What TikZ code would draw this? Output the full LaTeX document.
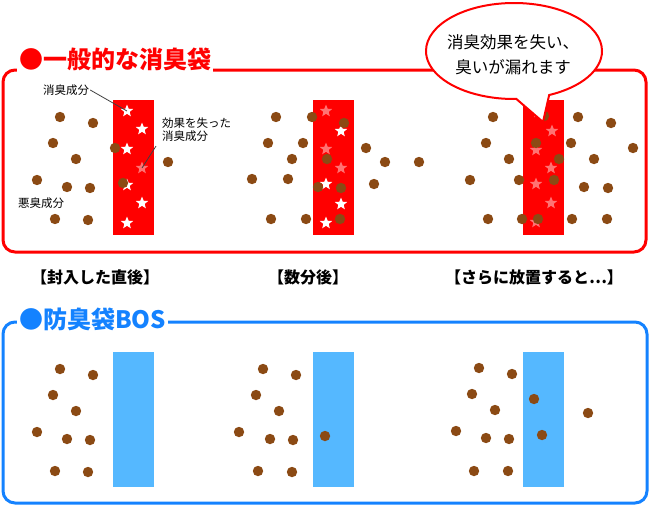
\documentclass[tikz,border=0pt]{standalone}
\usepackage{fontspec}
\usetikzlibrary{shapes.geometric, shapes.callouts}
\newfontfamily\jpfont{Noto Sans CJK JP}
\definecolor{bagred}{RGB}{255, 0, 0}
\definecolor{bosblue}{RGB}{20, 130, 255}
\definecolor{bosfill}{RGB}{85, 184, 255}
\definecolor{odour}{RGB}{139, 74, 20}

\begin{document}
\begin{tikzpicture}[x=1pt, y=-1pt,
        panel/.style={line width=3pt, rounded corners=12pt},
        heading/.style={fill=white, inner sep=2pt, anchor=west,
            font=\jpfont\bfseries\fontsize{24}{24}\selectfont},
        stage/.style={font=\jpfont\bfseries\fontsize{16}{16}\selectfont},
        note/.style={inner sep=1pt, font=\jpfont\fontsize{11.5}{13}\selectfont},
        leader/.style={draw=black!75, line width=0.8pt},
        fresh/.style={star, star points=5, star point ratio=2.3,
            fill=white, minimum size=13pt, inner sep=0pt},
        spent/.style={fresh, fill=bagred!55!white}
    ]
    \useasboundingbox (0,0) rectangle (650,520);

    % ordinary bag
    \draw[panel, bagred] (3,70) rectangle (646,252);
    \node[heading, text=bagred] (redtitle) at (17,59) {●一般的な消臭袋};
    \foreach \x in {113, 313, 523}
        \fill[bagred] (\x,100) rectangle ++(41,135);

    \node[fresh] (st1) at (127,111) {};
    \node[fresh] at (142,129) {};
    \node[fresh] at (127,149) {};
    \node[spent] (st4) at (142,168) {};
    \node[fresh] at (127,185) {};
    \node[fresh] at (142,203) {};
    \node[fresh] at (127,223) {};

    \node[spent] at (326,111) {};
    \node[fresh] at (341,131) {};
    \node[spent] at (326,149) {};
    \node[spent] at (341,168) {};
    \node[fresh] at (326,184) {};
    \node[fresh] at (341,204) {};
    \node[fresh] at (326,223) {};

    \foreach \x/\y in {538/112, 552/131, 536/150, 551/168,
                       536/184, 551/203, 536/222}
        \node[spent] at (\x,\y) {};

    \foreach \x/\y in {60/117, 93/123, 53/143, 76/159, 37/180, 67/187,
                       90/188, 55/219, 88/220, 115/148, 123/183, 168/162,
                       276/117, 312/117, 268/143, 303/143, 292/159, 252/179,
                       288/179, 271/219, 306/219, 344/123, 327/159, 318/187,
                       341/188, 340/219, 366/148, 385/162, 419/162, 374/184,
                       493/117, 578/117, 611/123, 486/143, 536/143, 571/143,
                       633/148, 509/159, 559/159, 594/159, 470/180, 519/180,
                       554/180, 584/187, 608/188, 488/219, 522/219, 538/219,
                       572/219, 607/219, 544/116}
        \fill[odour] (\x,\y) circle (5.2pt);

    \node[note] (lblfresh) at (66,90) {消臭成分};
    \node[note, align=left, anchor=north west] (lblspent) at (161,117)
        {効果を失った\\消臭成分};
    \node[note] (lblodour) at (41,203) {悪臭成分};
    \draw[leader] (lblfresh.east) -- (st1.center);
    \draw[leader] ([xshift=-5pt, yshift=-3pt]lblspent.south west) -- (st4.center);

    \node[ellipse callout, draw=bagred, line width=2pt, fill=white,
        minimum width=176pt, minimum height=96pt, callout pointer arc=22,
        callout absolute pointer={(543,122)}] (bubble) at (514,51) {};
    \node[align=center, font=\jpfont\fontsize{16.5}{25}\selectfont]
        (bubbletext) at (513,55) {消臭効果を失い、\\臭いが漏れます};

    % stages
    \node[stage] (stage1) at (95,277) {【封入した直後】};
    \node[stage] (stage2) at (308,277) {【数分後】};
    \node[stage] (stage3) at (534,277) {【さらに放置すると…】};

    % BOS bag
    \draw[panel, bosblue] (3,322) rectangle (647,503);
    \node[heading, text=bosblue] (bluetitle) at (17,319) {●防臭袋BOS};
    \foreach \x in {113, 313, 523}
        \fill[bosfill] (\x,352) rectangle ++(41,135);

    \foreach \x/\y in {60/369, 93/375, 53/395, 76/411, 37/432, 67/439,
                       90/440, 55/471, 88/472,
                       263/369, 296/375, 256/395, 279/411, 239/432, 270/439,
                       293/440, 258/471, 292/472, 325/436,
                       479/368, 512/374, 472/394, 495/410, 456/431, 486/438,
                       509/439, 474/471, 508/471, 534/399, 542/435, 588/413}
        \fill[odour] (\x,\y) circle (5.2pt);
\end{tikzpicture}
\end{document}
